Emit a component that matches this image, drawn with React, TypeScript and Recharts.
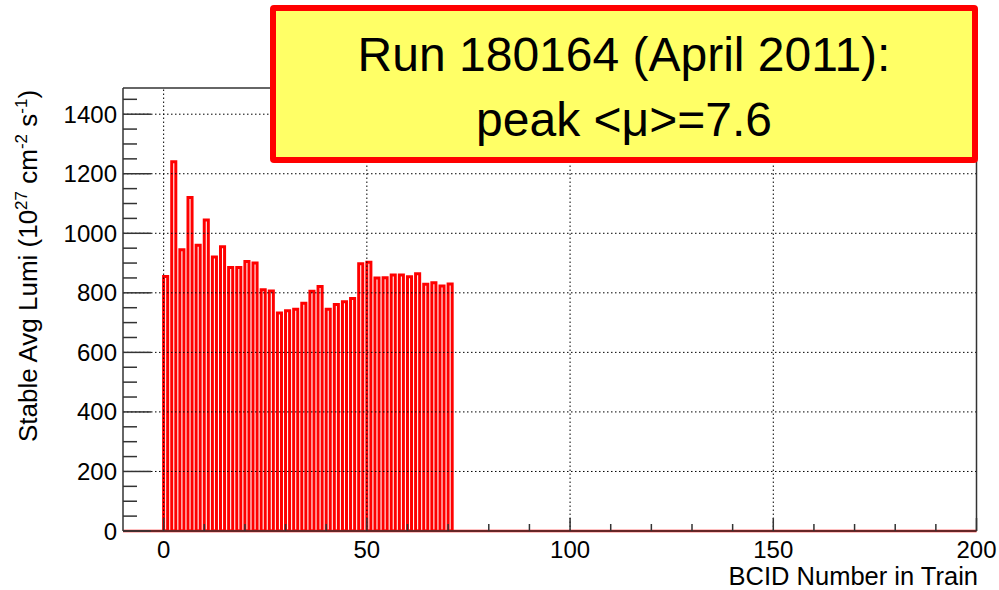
import * as React from "react";
import {
  ComposedChart,
  Bar,
  XAxis,
  YAxis,
  ReferenceLine,
} from "recharts";

// first BCID of each filled bin (50 ns bunch spacing)
const bcids = [
  0, 2, 4, 6, 8, 10, 12, 14, 16, 18, 20, 22, 24, 26, 28, 30, 32, 34, 36, 38,
  40, 42, 44, 46, 48, 50, 52, 54, 56, 58, 60, 62, 64, 66, 68, 70,
];

// stable average lumi per bunch, 10^27 cm^-2 s^-1
const lumi = [
  855, 1240, 945, 1120, 960, 1045, 920, 955, 885, 885, 905, 900, 810, 806,
  732, 740, 745, 765, 805, 821, 745, 761, 770, 781, 898, 903, 850, 851, 860,
  860, 854, 864, 829, 834, 823, 830,
];

const xMajorTicks = [0, 50, 100, 150, 200];
const xMinorTicks = [
  10, 20, 30, 40, 60, 70, 80, 90, 110, 120, 130, 140, 160, 170, 180, 190,
];
const yMajorTicks = [0, 200, 400, 600, 800, 1000, 1200, 1400];
const yMinorTicks = [
  50, 100, 150, 250, 300, 350, 450, 500, 550, 650, 700, 750, 850, 900, 950,
  1050, 1100, 1150, 1250, 1300, 1350, 1450,
];

const X_MIN = -10;
const X_MAX = 200;
const Y_MAX = 1488;

const W = 999;
const H = 590;
// plot box: x 123..976.5, y 88..531 (axes take 1px each)
const M = { top: 88, right: 22.5, bottom: 58, left: 122 };
const PLOT_W = W - M.left - 1 - M.right;
const BIN_PX = PLOT_W / (X_MAX - X_MIN);

const FONT = "'Liberation Sans', Arial, sans-serif";
const AXIS = "#333";
const GRID = { stroke: "#000", strokeDasharray: "1.5 2.5", strokeWidth: 1 };

const data = bcids.map((b, i) => ({ x: b + 0.5, lumi: lumi[i] }));

function XTick(props: any) {
  const { x, y, payload } = props;
  const v = payload.value as number;
  const major = xMajorTicks.includes(v);
  return (
    <g>
      <line x1={x} y1={y} x2={x} y2={y - (major ? 13 : 7)} stroke={AXIS} strokeWidth={1.5} />
      {major && (
        <text x={x} y={y + 27} textAnchor="middle" fontSize={24} fontFamily={FONT} fill="#000">
          {v}
        </text>
      )}
    </g>
  );
}

function YTick(props: any) {
  const { x, y, payload } = props;
  const v = payload.value as number;
  const major = yMajorTicks.includes(v);
  return (
    <g>
      <line x1={x} y1={y} x2={x + (major ? 28 : 14)} y2={y} stroke={AXIS} strokeWidth={1.5} />
      {major && (
        <text x={x - 6} y={y + 8.5} textAnchor="end" fontSize={24} fontFamily={FONT} fill="#000">
          {v}
        </text>
      )}
    </g>
  );
}

export default function App() {
  return (
    <div style={{ position: "absolute", left: 0, top: 0, width: W, height: H, background: "#fff" }}>
      <ComposedChart width={W} height={H} data={data} margin={M}>
        <XAxis
          dataKey="x"
          type="number"
          domain={[X_MIN, X_MAX]}
          allowDataOverflow
          ticks={[...xMajorTicks, ...xMinorTicks]}
          interval={0}
          height={1}
          tickSize={0}
          tickMargin={0}
          tickLine={false}
          axisLine={{ stroke: AXIS, strokeWidth: 1.5 }}
          tick={<XTick />}
        />
        <YAxis
          type="number"
          domain={[0, Y_MAX]}
          allowDataOverflow
          ticks={[...yMajorTicks, ...yMinorTicks]}
          interval={0}
          width={1}
          tickSize={0}
          tickMargin={0}
          tickLine={false}
          axisLine={{ stroke: AXIS, strokeWidth: 1.5 }}
          tick={<YTick />}
        />
        {yMajorTicks
          .filter((v) => v > 0)
          .map((v) => (
            <ReferenceLine key={"gy" + v} y={v} {...GRID} />
          ))}
        {xMajorTicks
          .filter((v) => v < X_MAX)
          .map((v) => (
            <ReferenceLine key={"gx" + v} x={v} {...GRID} />
          ))}
        <ReferenceLine y={Y_MAX} stroke={AXIS} strokeWidth={1.5} />
        <ReferenceLine x={X_MAX} stroke={AXIS} strokeWidth={1.5} />
        <Bar
          dataKey="lumi"
          fill="none"
          stroke="#ff0000"
          strokeWidth={3}
          barSize={BIN_PX}
          isAnimationActive={false}
        />
        <ReferenceLine y={0} stroke="#ff0000" strokeWidth={2.5} />
      </ComposedChart>

      <svg
        width={W}
        height={H}
        style={{ position: "absolute", left: 0, top: 0, pointerEvents: "none" }}
      >
        <text
          x={37}
          y={266}
          transform="rotate(-90 37 266)"
          textAnchor="middle"
          fontSize={26}
          fontFamily={FONT}
          fill="#000"
        >
          Stable Avg Lumi (10
          <tspan dy={-10} fontSize={17}>27</tspan>
          <tspan dy={10}> cm</tspan>
          <tspan dy={-10} fontSize={17}>-2</tspan>
          <tspan dy={10}> s</tspan>
          <tspan dy={-10} fontSize={17}>-1</tspan>
          <tspan dy={10}>)</tspan>
        </text>
        <text x={978} y={585} textAnchor="end" fontSize={25.5} fontFamily={FONT} fill="#000">
          BCID Number in Train
        </text>
      </svg>

      <div
        style={{
          position: "absolute",
          left: 270,
          top: 5,
          width: 708,
          height: 158,
          boxSizing: "border-box",
          border: "6px solid #ff0000",
          borderRadius: 4,
          background: "#ffff66",
          fontFamily: FONT,
          fontSize: 48,
          color: "#000",
          textAlign: "center",
          lineHeight: "65px",
          paddingTop: 11,
        }}
      >
        <div>Run 180164 (April 2011):</div>
        <div>peak &lt;μ&gt;=7.6</div>
      </div>
    </div>
  );
}
